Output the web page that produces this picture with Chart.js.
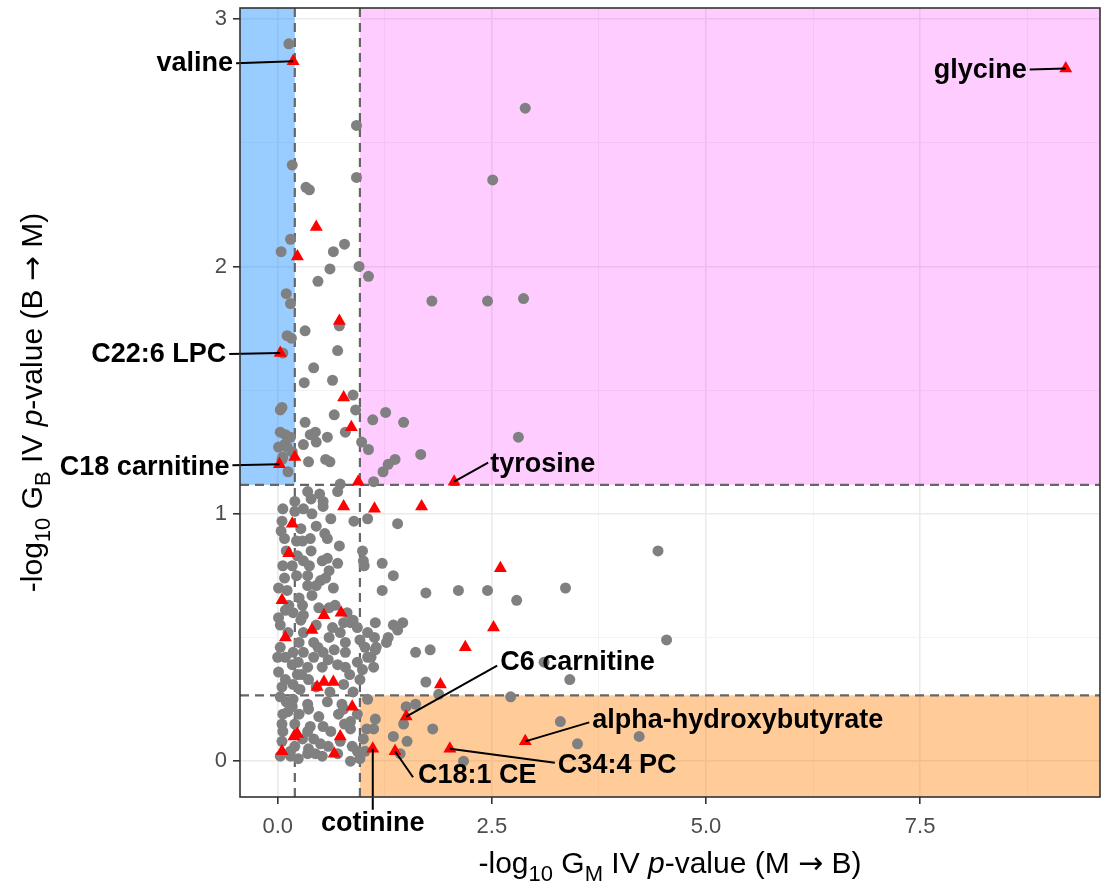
<!DOCTYPE html>
<html>
<head>
<meta charset="utf-8">
<script src="https://cdn.jsdelivr.net/npm/chart.js@4.4.0/dist/chart.umd.min.js"></script>
<style>
  html, body { margin: 0; padding: 0; background: #fff; }
</style>
</head>
<body>
<canvas id="myCanvas" width="1101" height="886"></canvas>
<script>
// tick labels and thresholds
const xTicks = [0, 2.5, 5, 7.5];
const yTicks = [0, 1, 2, 3];
const xCuts = [0.2, 0.96];
const yCuts = [0.266, 1.117];

// all other metabolites, [x, y]
const otherPts = [
  [0.13,2.90],[0.92,2.57],[0.17,2.41],[0.92,2.36],[0.33,2.32],[0.37,2.31],[2.89,2.64],[2.51,2.35],
  [0.15,2.11],[0.04,2.06],[0.65,2.06],[0.78,2.09],[0.61,1.99],[0.95,2.00],[1.06,1.96],[0.47,1.94],
  [0.10,1.89],[0.15,1.85],[1.80,1.86],[2.45,1.86],[2.87,1.87],[0.72,1.76],[0.32,1.74],[0.11,1.72],
  [0.16,1.71],[0.06,1.65],[0.70,1.66],[0.42,1.59],[0.31,1.53],[0.64,1.54],[0.88,1.48],[0.05,1.43],
  [0.03,1.42],[0.66,1.40],[0.32,1.37],[0.91,1.42],[1.11,1.38],[1.26,1.41],[1.47,1.37],[0.03,1.33],
  [0.09,1.32],[0.15,1.31],[0.01,1.27],[0.11,1.27],[0.38,1.32],[0.44,1.33],[0.30,1.28],[0.45,1.29],
  [0.58,1.31],[0.79,1.33],[0.98,1.29],[1.06,1.26],[0.06,1.23],[0.17,1.25],[0.36,1.21],[0.56,1.22],
  [0.61,1.21],[0.12,1.17],[0.73,1.12],[1.12,1.13],[1.23,1.17],[1.29,1.20],[1.37,1.22],[1.67,1.24],
  [2.81,1.31],[0.05,1.22],[0.08,1.28],
  [0.35,1.09],[0.49,1.08],[0.39,1.06],[0.53,1.05],[0.70,1.09],[0.53,1.03],[0.20,1.05],[0.06,1.02],
  [0.20,1.01],[0.30,1.02],[0.40,1.00],[0.89,0.97],[1.05,0.98],[1.40,0.96],[0.05,0.97],[0.04,0.93],
  [0.08,0.90],[0.29,0.89],[0.38,0.90],[0.58,0.90],[0.72,0.87],[0.22,0.89],[0.10,0.85],[0.39,0.85],
  [0.99,0.85],[0.23,0.83],[0.30,0.81],[0.37,0.79],[0.52,0.81],[0.58,0.82],[0.06,0.79],[0.17,0.79],
  [1.00,0.81],[1.01,0.79],[1.22,0.80],[0.08,0.74],[0.22,0.75],[0.35,0.75],[0.56,0.74],[0.50,0.73],
  [0.35,0.71],[0.45,0.71],[1.35,0.75],[0.01,0.70],[0.11,0.69],[0.25,0.66],[1.22,0.69],[1.73,0.68],
  [2.11,0.69],[2.45,0.69],[2.79,0.65],[3.36,0.70],[4.44,0.85],[0.29,0.63],[0.30,0.59],[0.13,0.63],
  [0.09,0.61],[0.01,0.58],[0.18,0.60],[0.67,0.63],[0.81,0.60],[0.88,0.57],[1.14,0.56],[1.35,0.55],
  [1.46,0.56],[0.03,0.55],[0.12,0.52],[0.30,0.52],[0.64,0.54],[0.77,0.56],[0.85,0.56],[0.93,0.54],
  [1.05,0.52],[1.29,0.50],[1.40,0.53],[0.42,0.48],[0.47,0.46],[0.79,0.48],[0.96,0.49],[0.73,0.52],
  [0.03,0.46],[0.00,0.42],[0.18,0.44],[0.30,0.44],[0.09,0.42],[0.53,0.44],[0.79,0.44],[1.02,0.46],
  [1.14,0.45],[0.24,0.40],[0.42,0.42],[0.59,0.41],[0.93,0.40],[1.05,0.42],[0.01,0.36],[0.17,0.39],
  [0.35,0.38],[0.52,0.38],[0.70,0.39],[0.79,0.38],[0.99,0.37],[1.12,0.38],[0.09,0.33],[0.23,0.35],
  [0.36,0.33],[0.96,0.33],[0.05,0.30],[0.18,0.31],[0.77,0.31],[0.26,0.29],[0.61,0.28],[1.61,0.44],
  [1.78,0.45],[1.73,0.32],[1.88,0.27],[3.11,0.40],[3.41,0.33],[4.54,0.49],[2.72,0.26],
  [1.13,0.50],[1.27,0.48],[1.15,0.46],[1.09,0.42],
  [0.27,0.57],[0.45,0.55],[0.60,0.50],[0.25,0.48],[0.55,0.92],[0.45,0.95],[0.62,0.98],[0.27,0.94],
  [0.65,0.70],[0.60,0.77],[0.70,0.80],[0.48,0.62],[0.40,0.67],[0.60,0.62],[0.66,0.45],
  [0.03,0.26],[0.18,0.25],[0.35,0.23],[0.36,0.21],[0.17,0.22],[0.06,0.19],[0.75,0.23],[0.71,0.19],
  [0.77,0.21],[0.85,0.16],[0.93,0.19],[1.05,0.25],[1.14,0.17],[1.12,0.13],[0.05,0.15],[0.06,0.12],
  [0.20,0.15],[0.38,0.14],[0.35,0.12],[0.53,0.14],[0.42,0.09],[0.05,0.08],[0.29,0.09],[0.20,0.06],
  [0.15,0.04],[0.36,0.05],[0.50,0.07],[0.59,0.06],[0.73,0.08],[0.87,0.06],[0.85,0.13],[0.03,0.02],
  [0.15,0.02],[0.35,0.03],[0.52,0.02],[0.85,0.00],[0.96,0.01],[0.93,0.04],[1.50,0.22],[1.61,0.23],
  [1.47,0.15],[1.81,0.13],[1.51,0.08],[1.43,0.03],[2.17,0.00],[3.30,0.16],[3.50,0.07],[4.22,0.10],
  [1.02,0.04],[1.00,0.09],[1.04,0.13],[1.35,0.10],
  [0.45,0.30],[0.58,0.24],[0.48,0.18],[0.62,0.12],[0.25,0.19],[0.12,0.20],[0.88,0.28],[0.84,0.35],
  [0.28,0.35],[0.10,0.24],[0.70,0.03],[0.78,0.15],[0.44,0.03],[0.24,0.01]
];

// highlighted metabolites (red triangles)
const hitNames = [
  'valine', 'glycine', '', '', '', 'C22:6 LPC', '', '', '', 'C18 carnitine',
  '', 'tyrosine', '', '', '', '', '', '', '', '',
  '', '', '', '', '', '', 'C6 carnitine', '', '', '',
  '', '', '', '', '', '', 'cotinine', 'C18:1 CE', 'C34:4 PC', 'alpha-hydroxybutyrate'
];
const hitX = [
  0.18, 9.20, 0.45, 0.23, 0.72, 0.03, 0.77, 0.86, 0.20, 0.02,
  0.94, 2.06, 0.77, 1.13, 1.68, 0.17, 0.13, 2.60, 0.05, 0.54,
  0.74, 2.52, 0.09, 0.40, 2.19, 1.90, 1.50, 0.46, 0.54, 0.65,
  0.87, 0.19, 0.23, 0.73, 0.05, 0.66, 1.11, 1.37, 2.01, 2.89
];
const hitY = [
  2.83, 2.80, 2.16, 2.04, 1.78, 1.65, 1.47, 1.35, 1.23, 1.20,
  1.13, 1.13, 1.03, 1.02, 1.03, 0.96, 0.84, 0.78, 0.65, 0.59,
  0.60, 0.54, 0.50, 0.53, 0.46, 0.31, 0.18, 0.30, 0.32, 0.32,
  0.22, 0.10, 0.11, 0.10, 0.04, 0.03, 0.05, 0.04, 0.05, 0.08
];

// where each label sits, in pixels from its point
const labelPlace = {
  'valine':                { end: [-57, 2],   text: [-60, 2],   align: 'right' },
  'glycine':               { end: [-36, 1],   text: [-39, 2],   align: 'right' },
  'C22:6 LPC':             { end: [-51, 1],   text: [-54, 2],   align: 'right' },
  'C18 carnitine':         { end: [-47, 1],   text: [-50, 3],   align: 'right' },
  'tyrosine':              { end: [34, -19],  text: [36, -17],  align: 'left' },
  'C6 carnitine':          { end: [91, -51],  text: [94, -54],  align: 'left' },
  'alpha-hydroxybutyrate': { end: [64, -19],  text: [67, -21],  align: 'left' },
  'C34:4 PC':              { end: [105, 14],  text: [108, 17],  align: 'left' },
  'C18:1 CE':              { end: [18, 26],   text: [23, 24],   align: 'left' },
  'cotinine':              { end: [0, 61],    text: [0, 75],    align: 'center' }
};

const FONT = '"Liberation Sans", Arial, Helvetica, sans-serif';
Chart.defaults.font.family = FONT;

const isMajorX = v => xTicks.some(t => Math.abs(t - v) < 1e-6);
const isMajorY = v => yTicks.some(t => Math.abs(t - v) < 1e-6);

function drawRich(ctx, parts, size) {
  const font = p => (p.it ? 'italic ' : '') + (p.sub ? Math.round(size * 0.72) : size) + 'px ' +
    (p.sym ? '"DejaVu Sans", sans-serif' : FONT);
  let w = 0;
  parts.forEach(p => { ctx.font = font(p); p.w = ctx.measureText(p.t).width; w += p.w; });
  let xx = -w / 2;
  ctx.textAlign = 'left';
  ctx.textBaseline = 'alphabetic';
  parts.forEach(p => {
    ctx.font = font(p);
    ctx.fillText(p.t, xx, p.sub ? size * 0.28 : 0);
    xx += p.w;
  });
}

const decor = {
  id: 'decor',
  beforeDatasetsDraw(chart) {
    const { ctx, chartArea: a, scales: { x, y } } = chart;
    ctx.save();
    ctx.beginPath();
    ctx.rect(a.left, a.top, a.right - a.left, a.bottom - a.top);
    ctx.clip();

    function box(x0, x1, y0, y1, color) {
      const L = x.getPixelForValue(x0), R = x.getPixelForValue(x1);
      const T = y.getPixelForValue(y1), B = y.getPixelForValue(y0);
      ctx.fillStyle = color;
      ctx.fillRect(L, T, R - L, B - T);
    }
    box(x.min, xCuts[0], yCuts[1], y.max, 'rgba(0,128,255,0.4)');
    box(xCuts[1], x.max, yCuts[1], y.max, 'rgba(255,0,255,0.2)');
    box(xCuts[1], x.max, y.min, yCuts[0], 'rgba(255,128,0,0.4)');

    ctx.strokeStyle = '#666666';
    ctx.lineWidth = 2.2;
    ctx.setLineDash([9, 6]);
    xCuts.forEach(v => {
      const px = x.getPixelForValue(v);
      ctx.beginPath(); ctx.moveTo(px, a.bottom); ctx.lineTo(px, a.top); ctx.stroke();
    });
    yCuts.forEach(v => {
      const py = y.getPixelForValue(v);
      ctx.beginPath(); ctx.moveTo(a.left, py); ctx.lineTo(a.right, py); ctx.stroke();
    });
    ctx.restore();
  },
  afterDatasetsDraw(chart) {
    const { ctx, chartArea: a, scales: { x, y } } = chart;
    ctx.save();

    // labels with leader lines
    hitNames.forEach((name, i) => {
      if (!name) return;
      const pl = labelPlace[name];
      const px = x.getPixelForValue(hitX[i]);
      const py = y.getPixelForValue(hitY[i]);
      ctx.strokeStyle = '#000';
      ctx.lineWidth = 2;
      ctx.beginPath();
      ctx.moveTo(px, py);
      ctx.lineTo(px + pl.end[0], py + pl.end[1]);
      ctx.stroke();
      ctx.fillStyle = '#000';
      ctx.font = 'bold 27px ' + FONT;
      ctx.textAlign = pl.align;
      ctx.textBaseline = 'middle';
      ctx.fillText(name, px + pl.text[0], py + pl.text[1]);
    });

    // panel border
    ctx.strokeStyle = '#333333';
    ctx.lineWidth = 1.6;
    ctx.strokeRect(a.left, a.top, a.right - a.left, a.bottom - a.top);

    // axis titles
    ctx.fillStyle = '#000';
    ctx.save();
    ctx.translate((a.left + a.right) / 2, 873);
    drawRich(ctx, [
      { t: '-log' }, { t: '10', sub: true }, { t: ' G' }, { t: 'M', sub: true },
      { t: ' IV ' }, { t: 'p', it: true }, { t: '-value (M ' }, { t: '\u2192', sym: true }, { t: ' B)' }
    ], 30);
    ctx.restore();
    ctx.save();
    ctx.translate(42, (a.top + a.bottom) / 2);
    ctx.rotate(-Math.PI / 2);
    drawRich(ctx, [
      { t: '-log' }, { t: '10', sub: true }, { t: ' G' }, { t: 'B', sub: true },
      { t: ' IV ' }, { t: 'p', it: true }, { t: '-value (B ' }, { t: '\u2192', sym: true }, { t: ' M)' }
    ], 30);
    ctx.restore();
    ctx.restore();
  }
};

const canvas = document.getElementById('myCanvas');
new Chart(canvas, {
  type: 'scatter',
  data: {
    datasets: [
      {
        label: 'highlighted',
        data: hitX.map((v, i) => ({ x: v, y: hitY[i] })),
        pointStyle: 'triangle',
        pointRadius: 7.5,
        backgroundColor: '#ff0000',
        borderWidth: 0,
        order: 0
      },
      {
        label: 'other',
        data: otherPts.map(p => ({ x: p[0], y: p[1] })),
        pointStyle: 'circle',
        pointRadius: 5.5,
        backgroundColor: '#808080',
        borderWidth: 0,
        order: 1
      }
    ]
  },
  options: {
    responsive: false,
    animation: false,
    devicePixelRatio: 1,
    layout: { autoPadding: false, padding: { top: 8, right: 1, left: 0, bottom: 0 } },
    plugins: { legend: { display: false }, tooltip: { enabled: false } },
    scales: {
      x: {
        type: 'linear',
        min: -0.44,
        max: 9.6,
        afterBuildTicks: s => {
          s.ticks = xTicks.flatMap(v => [v, v + 1.25]).map(v => ({ value: v }));
        },
        afterFit: s => { s.height = 89; s.paddingLeft = 0; s.paddingRight = 0; },
        border: { display: false },
        grid: {
          color: c => isMajorX(c.tick.value) ? '#ebebeb' : '#f3f3f3',
          lineWidth: c => isMajorX(c.tick.value) ? 1.6 : 1,
          tickColor: c => isMajorX(c.tick.value) ? '#333333' : 'rgba(0,0,0,0)',
          tickLength: 7,
          tickWidth: 1.6
        },
        ticks: {
          autoSkip: false,
          maxRotation: 0,
          padding: 10,
          color: '#4d4d4d',
          font: { size: 22 },
          callback: v => isMajorX(v) ? v.toFixed(1) : ''
        }
      },
      y: {
        type: 'linear',
        min: -0.145,
        max: 3.045,
        afterBuildTicks: s => {
          s.ticks = yTicks.flatMap(v => v < 3 ? [v, v + 0.5] : [v]).map(v => ({ value: v }));
        },
        afterFit: s => { s.width = 240; s.paddingTop = 0; s.paddingBottom = 0; },
        border: { display: false },
        grid: {
          color: c => isMajorY(c.tick.value) ? '#ebebeb' : '#f3f3f3',
          lineWidth: c => isMajorY(c.tick.value) ? 1.6 : 1,
          tickColor: c => isMajorY(c.tick.value) ? '#333333' : 'rgba(0,0,0,0)',
          tickLength: 7,
          tickWidth: 1.6
        },
        ticks: {
          autoSkip: false,
          padding: 6,
          color: '#4d4d4d',
          font: { size: 22 },
          callback: v => isMajorY(v) ? String(v) : ''
        }
      }
    }
  },
  plugins: [decor]
});
</script>
</body>
</html>
